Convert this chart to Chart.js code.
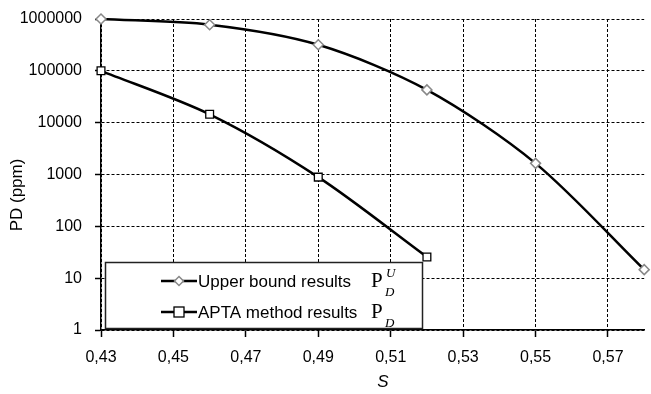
<!DOCTYPE html>
<html><head><meta charset="utf-8">
<script src="https://cdn.jsdelivr.net/npm/chart.js@4/dist/chart.umd.min.js"></script>
<style>html,body{margin:0;padding:0;background:#fff}#wrap{width:651px;height:394px}</style>
</head><body><div id="wrap"><canvas id="c" width="651" height="394"></canvas></div>
<script>
const sValues = [0.43, 0.46, 0.49, 0.52, 0.55, 0.58];
const upperBound = [1000000, 776000, 318000, 42900, 1640, 14.6];
const aptaS = [0.43, 0.46, 0.49, 0.52];
const aptaMethod = [100000, 14500, 890, 25.7];
const xTicks = [0.43, 0.45, 0.47, 0.49, 0.51, 0.53, 0.55, 0.57];
const yTicks = [1, 10, 100, 1000, 10000, 100000, 1000000];
const seriesNames = ['Upper bound results', 'APTA method results'];
const xTitle = 'S';
const yTitle = 'PD (ppm)';

const SANS = "'Liberation Sans', Arial, sans-serif";
const SERIF = "'Liberation Serif', 'Times New Roman', serif";

const extras = {
  id: 'extras',
  afterDraw(chart) {
    const ctx = chart.ctx;
    const a = chart.chartArea;
    ctx.save();
    ctx.fillStyle = '#000';
    ctx.font = "italic 17px " + SANS;
    ctx.textAlign = 'center';
    ctx.textBaseline = 'middle';
    ctx.fillText(xTitle, 383, 382);
    ctx.save();
    ctx.translate(17, 195);
    ctx.rotate(-Math.PI / 2);
    ctx.font = "17px " + SANS;
    ctx.fillText(yTitle, 0, 0);
    ctx.restore();

    const bx = a.left + 4.5, by = 262.5, bw = 317, bh = 66;
    ctx.fillStyle = '#fff';
    ctx.fillRect(bx, by, bw, bh);
    ctx.strokeStyle = '#222';
    ctx.lineWidth = 1.5;
    ctx.strokeRect(bx, by, bw, bh);

    const rows = [281, 312];
    const mx = 179;
    for (let i = 0; i < 2; i++) {
      const y = rows[i];
      ctx.strokeStyle = '#000';
      ctx.lineWidth = 2.5;
      ctx.beginPath();
      ctx.moveTo(161, y);
      ctx.lineTo(197, y);
      ctx.stroke();
      if (i === 0) {
        ctx.fillStyle = '#fff';
        ctx.strokeStyle = '#888';
        ctx.lineWidth = 1.5;
        ctx.beginPath();
        ctx.moveTo(mx, y - 4.5); ctx.lineTo(mx + 4.5, y); ctx.lineTo(mx, y + 4.5); ctx.lineTo(mx - 4.5, y); ctx.closePath();
        ctx.fill(); ctx.stroke();
      } else {
        ctx.fillStyle = '#fff';
        ctx.strokeStyle = '#000';
        ctx.lineWidth = 1.3;
        ctx.fillRect(mx - 5, y - 5, 10, 10);
        ctx.strokeRect(mx - 5, y - 5, 10, 10);
      }
      ctx.fillStyle = '#000';
      ctx.font = "17px " + SANS;
      ctx.textAlign = 'left';
      ctx.textBaseline = 'alphabetic';
      ctx.fillText(seriesNames[i], 198, y + 6);
      ctx.font = "21px " + SERIF;
      ctx.fillText('P', 371, y + 6);
      ctx.font = "italic 13px " + SERIF;
      ctx.fillText('D', 385, y + 15);
      if (i === 0) ctx.fillText('U', 386, y - 4);
    }
    ctx.restore();
  }
};

new Chart(document.getElementById('c'), {
  type: 'line',
  data: {
    datasets: [
      {
        label: seriesNames[0],
        data: sValues.map((s, i) => ({ x: s, y: upperBound[i] })),
        borderColor: '#000',
        borderWidth: 2.5,
        tension: 0.3,
        pointStyle: 'rectRot',
        pointRadius: 5,
        pointBackgroundColor: '#fff',
        pointBorderColor: '#888',
        pointBorderWidth: 1.5,
        clip: false
      },
      {
        label: seriesNames[1],
        data: aptaS.map((s, i) => ({ x: s, y: aptaMethod[i] })),
        borderColor: '#000',
        borderWidth: 2.5,
        tension: 0.3,
        pointStyle: 'rect',
        pointRadius: 5.5,
        pointBackgroundColor: '#fff',
        pointBorderColor: '#000',
        pointBorderWidth: 1.3,
        clip: false
      }
    ]
  },
  options: {
    responsive: false,
    animation: false,
    devicePixelRatio: 1,
    layout: { padding: { top: 19, right: 1, left: 0, bottom: 0 } },
    plugins: { legend: { display: false }, tooltip: { enabled: false }, title: { display: false } },
    scales: {
      x: {
        type: 'linear',
        min: 0.43,
        max: 0.58,
        afterBuildTicks: s => { s.ticks = xTicks.map(v => ({ value: v })); },
        afterFit: s => { s.height = 64; s.paddingLeft = 0; s.paddingRight = 0; },
        ticks: {
          callback: v => Number(v).toFixed(2).replace('.', ','),
          font: { family: SANS, size: 16 },
          color: '#000',
          padding: 11,
          maxRotation: 0,
          autoSkip: false
        },
        grid: { color: '#000', lineWidth: 1, tickLength: 7, tickColor: '#000', tickWidth: 1.5, tickBorderDash: [] },
        border: { display: true, color: '#000', width: 1.5, dash: [3, 2] }
      },
      y: {
        type: 'logarithmic',
        min: 1,
        max: 1000000,
        afterBuildTicks: s => { s.ticks = yTicks.map(v => ({ value: v })); },
        afterFit: s => { s.width = 101; s.paddingTop = 0; s.paddingBottom = 0; },
        ticks: {
          callback: v => String(Math.round(v)),
          font: { family: SANS, size: 16 },
          color: '#000',
          padding: 13,
          autoSkip: false
        },
        grid: { color: '#000', lineWidth: 1, tickLength: 6, tickColor: '#000', tickWidth: 1.5, tickBorderDash: [] },
        border: { display: true, color: '#000', width: 1.5, dash: [3, 2] }
      }
    }
  },
  plugins: [extras]
});
</script>
</body></html>
